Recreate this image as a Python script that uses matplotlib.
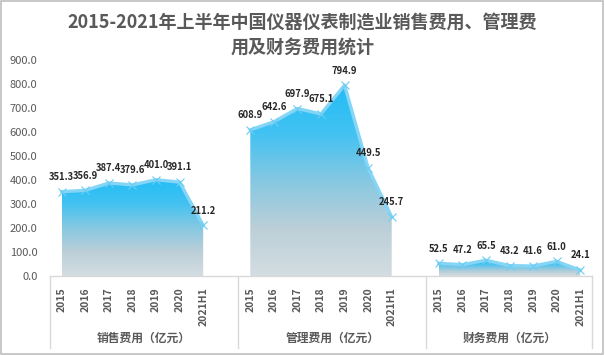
import matplotlib
matplotlib.use("Agg")
import matplotlib.pyplot as plt
import numpy as np
from matplotlib.colors import LinearSegmentedColormap
from matplotlib.patches import Rectangle
from matplotlib.lines import Line2D

plt.rcParams['font.family'] = ['Noto Sans CJK SC', 'DejaVu Sans']

years = ["2015", "2016", "2017", "2018", "2019", "2020", "2021H1"]
groups = ["销售费用（亿元）", "管理费用（亿元）", "财务费用（亿元）"]
sales = [351.3, 356.9, 387.4, 379.6, 401.0, 391.1, 211.2]
admin = [608.9, 642.6, 697.9, 675.1, 794.9, 449.5, 245.7]
finance = [52.5, 47.2, 65.5, 43.2, 41.6, 61.0, 24.1]
series = [sales, admin, finance]
title = "2015-2021年上半年中国仪器仪表制造业销售费用、管理费\n用及财务费用统计"
yticks = [0, 100, 200, 300, 400, 500, 600, 700, 800, 900]

W, H = 605, 355
fig = plt.figure(figsize=(W / 100, H / 100), dpi=100)
ax = fig.add_axes([50 / W, 1 - 276 / H, (592 - 50) / W, (276 - 60) / H])

cmap = LinearSegmentedColormap.from_list(
    "g", ["#d3dde2", "#bccfd8", "#86c8e2", "#42c2f2", "#22bdf5"])

grey = "#595959"
n_per = len(years) + 1
for gi, vals in enumerate(series):
    xs = np.arange(len(vals)) + gi * n_per
    poly = ax.fill_between(xs, 0, vals, color="none", lw=0)
    grad = np.linspace(0, 1, 256).reshape(-1, 1)
    im = ax.imshow(grad, cmap=cmap, origin="lower", aspect="auto",
                   extent=[xs[0], xs[-1], 0, max(vals)], zorder=1)
    im.set_clip_path(poly.get_paths()[0], transform=ax.transData)
    ax.plot(xs, vals, color="#84d5f6", lw=2.4, zorder=2, solid_joinstyle="round")
    ax.plot(xs, vals, ls="none", marker="x", ms=6, mew=0.8,
            color="#6ccdf2", zorder=3)
    for x, v in zip(xs, vals):
        ax.annotate(f"{v:.1f}", (x, v), xytext=(0, 7), textcoords="offset points",
                    ha="center", va="bottom", fontsize=6.8, fontweight="bold",
                    color="#262626", zorder=4)

ax.set_xlim(-0.5, 3 * n_per - 1 - 0.5)
ax.set_ylim(0, 900)
ax.set_yticks(yticks)
ax.set_yticklabels([f"{v:.1f}" for v in yticks], fontsize=8, color=grey)
ax.tick_params(axis="y", length=0, pad=9)
ax.set_xticks([])
for s in ["top", "right", "left"]:
    ax.spines[s].set_visible(False)
ax.spines["bottom"].set_color("#d9d9d9")
ax.spines["bottom"].set_linewidth(1)

# category labels
for gi in range(3):
    for i, yr in enumerate(years):
        x = i + gi * n_per
        ax.annotate(yr, (x, 0), xytext=(0, -8), textcoords="offset points",
                    ha="center", va="top", rotation=90, fontsize=7.5,
                    fontweight="bold", color=grey, annotation_clip=False)
    start = gi * n_per - 0.5
    end = min(start + n_per, 3 * n_per - 1 - 0.5)
    ax.annotate(groups[gi], ((start + end) / 2, 0), xytext=(0, -62),
                textcoords="offset pixels", ha="center", va="center",
                fontsize=8.5, fontweight="bold", color=grey,
                annotation_clip=False)

# separators
for xp in [50, 238, 426, 592]:
    fig.add_artist(Line2D([xp / W, xp / W], [1 - 276 / H, 1 - 348 / H],
                          color="#d9d9d9", lw=1))

fig.text(0.5, 1 - 35 / H, title, ha="center", va="center", fontsize=13,
         fontweight="bold", color=grey, linespacing=1.45)

fig.add_artist(Rectangle((0.002, 0.003), 0.995, 0.994, transform=fig.transFigure,
                         fill=False, edgecolor="#bfbfbf", lw=1.2))

fig.savefig("out.png", dpi=100)
